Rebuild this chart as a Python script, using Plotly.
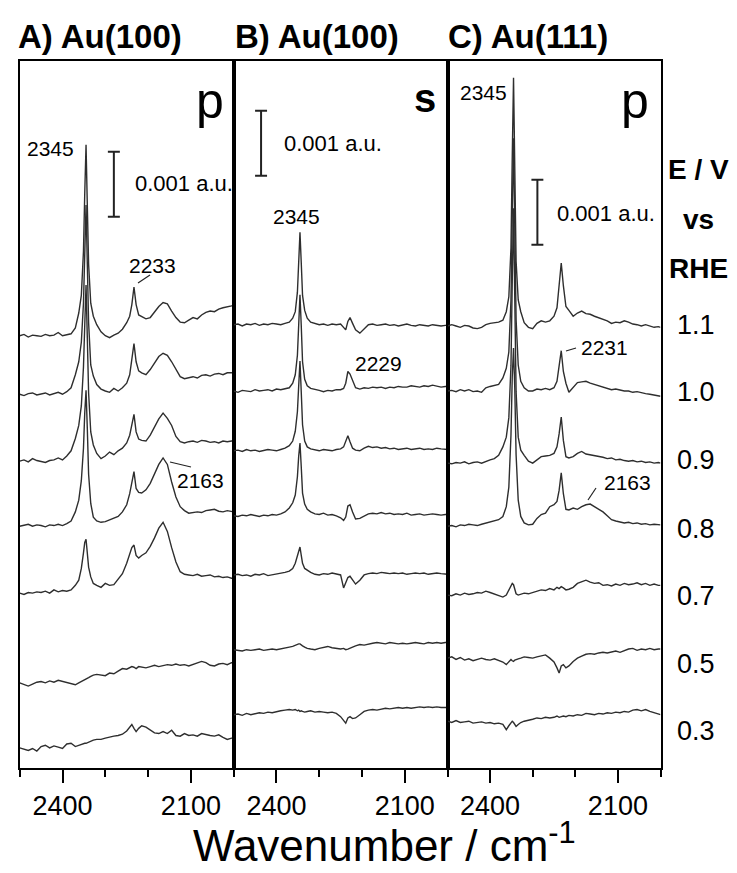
import plotly.graph_objects as go

# ---------------- data ----------------
# shared wavenumber grid (cm-1)
wavenumber = [2500, 2490, 2480, 2470, 2460, 2450, 2440, 2430, 2420, 2410, 2400, 2390, 2380, 2370,
              2362, 2356, 2351, 2348, 2345, 2342, 2339, 2334, 2328, 2320, 2310, 2300, 2290, 2280,
              2270, 2260, 2250, 2243, 2238, 2233, 2228, 2222, 2215, 2205, 2195, 2185, 2175, 2165,
              2155, 2145, 2135, 2125, 2115, 2105, 2095, 2085, 2075, 2065, 2055, 2045, 2035, 2025,
              2015, 2005, 2000]

potentials = ["1.1", "1.0", "0.9", "0.8", "0.7", "0.5", "0.3"]

# absorbance (units of 0.001 a.u.) relative to each spectrum's own baseline
A_11 = [0.00, 0.02, -0.02, 0.01, 0.00, -0.01, 0.02, 0.00, 0.01, 0.05, 0.00, 0.02, 0.03, 0.12, 0.35, 0.62, 1.30, 2.20, 2.94, 2.00,
        1.10, 0.50, 0.30, 0.17, 0.06, 0.00, -0.03, 0.01, 0.04, 0.10, 0.20, 0.30, 0.48, 0.75, 0.48, 0.32, 0.30, 0.26, 0.28, 0.36,
        0.45, 0.51, 0.49, 0.38, 0.28, 0.21, 0.20, 0.24, 0.28, 0.26, 0.32, 0.36, 0.38, 0.37, 0.41, 0.43, 0.44, 0.46, 0.47]
A_10 = [0.00, -0.02, 0.01, 0.02, -0.01, 0.00, 0.02, -0.01, 0.01, 0.03, 0.00, 0.04, 0.10, 0.30, 0.50, 0.80, 1.40, 2.20, 2.91, 2.00,
        1.10, 0.45, 0.28, 0.15, 0.08, 0.05, 0.03, 0.09, 0.05, 0.10, 0.17, 0.30, 0.52, 0.78, 0.50, 0.36, 0.33, 0.30, 0.38, 0.48,
        0.58, 0.63, 0.60, 0.50, 0.38, 0.27, 0.24, 0.26, 0.27, 0.25, 0.29, 0.30, 0.28, 0.31, 0.32, 0.30, 0.33, 0.33, 0.34]
A_09 = [0.00, 0.02, -0.01, 0.04, 0.01, 0.00, -0.02, 0.01, 0.02, 0.05, 0.02, 0.08, 0.16, 0.35, 0.55, 0.85, 1.45, 2.10, 2.71, 1.90,
        1.05, 0.45, 0.25, 0.12, 0.04, 0.08, 0.14, 0.10, 0.16, 0.20, 0.28, 0.40, 0.55, 0.72, 0.45, 0.34, 0.32, 0.31, 0.40, 0.52,
        0.65, 0.74, 0.66, 0.55, 0.38, 0.30, 0.28, 0.30, 0.31, 0.29, 0.32, 0.31, 0.29, 0.30, 0.28, 0.31, 0.30, 0.31, 0.31]
A_08 = [0.00, 0.02, 0.03, 0.00, 0.02, 0.01, -0.01, 0.02, 0.01, 0.03, 0.01, 0.04, 0.08, 0.22, 0.40, 0.70, 1.20, 1.75, 2.09, 1.50,
        0.80, 0.35, 0.14, 0.08, 0.06, 0.07, 0.10, 0.13, 0.15, 0.22, 0.33, 0.50, 0.70, 0.84, 0.58, 0.52, 0.51, 0.56, 0.66, 0.80,
        0.95, 1.05, 0.95, 0.68, 0.45, 0.30, 0.24, 0.20, 0.21, 0.22, 0.21, 0.24, 0.25, 0.26, 0.23, 0.22, 0.24, 0.22, 0.22]
A_07 = [0.00, -0.02, 0.01, 0.00, 0.02, 0.01, 0.03, 0.00, 0.05, 0.02, 0.04, 0.03, 0.05, 0.12, 0.20, 0.38, 0.62, 0.78, 0.83, 0.60,
        0.40, 0.25, 0.15, 0.12, 0.09, 0.15, 0.12, 0.13, 0.22, 0.30, 0.46, 0.60, 0.70, 0.74, 0.58, 0.54, 0.58, 0.62, 0.72, 0.85,
        1.00, 1.09, 0.95, 0.70, 0.48, 0.33, 0.29, 0.28, 0.27, 0.29, 0.26, 0.27, 0.28, 0.25, 0.26, 0.24, 0.25, 0.23, 0.23]
A_05 = [0.00, -0.03, -0.05, -0.02, 0.01, 0.02, 0.00, 0.03, 0.01, 0.04, 0.02, 0.00, -0.01, -0.03, 0.00, 0.02, 0.03, 0.05, 0.06, 0.07,
        0.08, 0.10, 0.12, 0.13, 0.12, 0.11, 0.15, 0.14, 0.18, 0.22, 0.21, 0.23, 0.25, 0.24, 0.22, 0.25, 0.24, 0.23, 0.25, 0.27,
        0.25, 0.26, 0.28, 0.27, 0.29, 0.27, 0.28, 0.26, 0.28, 0.30, 0.33, 0.31, 0.27, 0.26, 0.29, 0.30, 0.28, 0.31, 0.31]
A_03 = [0.00, -0.02, -0.04, -0.01, -0.05, 0.02, 0.04, 0.00, 0.03, 0.01, -0.01, 0.06, 0.07, 0.02, 0.04, 0.05, 0.06, 0.07, 0.07, 0.08,
        0.09, 0.10, 0.12, 0.13, 0.13, 0.15, 0.17, 0.18, 0.19, 0.21, 0.26, 0.33, 0.36, 0.30, 0.25, 0.30, 0.34, 0.32, 0.28, 0.23,
        0.22, 0.25, 0.22, 0.27, 0.19, 0.18, 0.22, 0.19, 0.20, 0.18, 0.22, 0.20, 0.19, 0.18, 0.20, 0.16, 0.13, 0.15, 0.15]

B_11 = [0.00, 0.01, -0.02, 0.01, 0.00, 0.02, -0.01, 0.01, 0.00, 0.02, 0.01, 0.00, 0.02, 0.04, 0.10, 0.20, 0.50, 1.00, 1.42, 0.95,
        0.45, 0.22, 0.10, 0.04, 0.02, 0.00, 0.01, -0.01, 0.01, 0.00, 0.01, -0.05, -0.08, 0.05, 0.11, 0.02, -0.08, -0.13, -0.06, 0.00,
        0.01, -0.01, 0.00, 0.01, -0.01, 0.00, -0.02, 0.00, 0.01, -0.01, -0.02, 0.00, -0.01, -0.02, 0.00, -0.01, -0.02, -0.01, -0.01]
B_10 = [0.00, -0.02, 0.01, 0.00, -0.01, 0.02, 0.00, 0.01, 0.02, 0.00, 0.03, 0.02, 0.04, 0.05, 0.12, 0.25, 0.55, 1.05, 1.48, 1.00,
        0.45, 0.18, 0.08, 0.04, 0.03, 0.01, -0.01, 0.01, 0.00, 0.02, 0.02, 0.04, 0.12, 0.30, 0.26, 0.15, 0.05, 0.03, 0.05, 0.04,
        0.06, 0.05, 0.06, 0.04, 0.06, 0.05, 0.07, 0.06, 0.06, 0.08, 0.07, 0.06, 0.08, 0.07, 0.09, 0.08, 0.06, 0.07, 0.07]
B_09 = [0.00, 0.01, -0.01, 0.02, 0.00, 0.01, -0.01, 0.00, 0.02, 0.01, 0.00, 0.02, 0.04, 0.08, 0.15, 0.30, 0.60, 1.00, 1.38, 0.90,
        0.40, 0.15, 0.06, 0.03, 0.01, 0.00, 0.02, 0.01, 0.00, 0.02, 0.03, 0.06, 0.16, 0.23, 0.14, 0.04, 0.01, 0.00, 0.04, 0.07,
        0.05, 0.06, 0.04, 0.05, 0.03, 0.04, 0.02, 0.03, 0.04, 0.02, 0.03, 0.04, 0.02, 0.03, 0.02, 0.04, 0.03, 0.02, 0.02]
B_08 = [0.00, -0.01, 0.01, 0.00, 0.02, 0.00, -0.01, 0.01, 0.00, 0.02, 0.01, 0.03, 0.06, 0.12, 0.20, 0.32, 0.60, 0.92, 1.12, 0.75,
        0.35, 0.18, 0.10, 0.06, 0.03, 0.02, 0.04, 0.01, 0.02, 0.00, -0.03, -0.07, -0.02, 0.15, 0.17, 0.06, -0.05, -0.04, -0.01, 0.03,
        0.04, 0.03, 0.05, 0.03, 0.04, 0.02, 0.03, 0.02, 0.04, 0.01, 0.02, 0.03, 0.01, 0.02, 0.03, 0.02, 0.01, 0.02, 0.02]
B_07 = [0.00, 0.01, -0.01, 0.00, -0.02, 0.01, 0.00, 0.02, -0.01, 0.00, 0.01, 0.02, 0.04, 0.06, 0.10, 0.18, 0.30, 0.40, 0.43, 0.30,
        0.18, 0.10, 0.07, 0.04, 0.01, 0.00, 0.02, 0.01, 0.03, 0.02, 0.00, -0.20, -0.12, -0.04, -0.02, -0.08, -0.14, -0.08, 0.00, 0.02,
        0.03, 0.02, 0.04, 0.03, 0.02, 0.03, 0.02, 0.03, 0.01, 0.02, 0.03, 0.02, 0.03, 0.01, 0.02, 0.03, 0.02, 0.01, 0.01]
B_05 = [0.00, -0.01, -0.02, 0.00, -0.01, 0.00, 0.01, -0.01, 0.00, 0.01, 0.00, 0.01, 0.03, 0.04, 0.05, 0.07, 0.08, 0.09, 0.09, 0.08,
        0.06, 0.04, 0.02, 0.01, 0.00, 0.02, 0.04, 0.05, 0.03, 0.02, 0.01, 0.02, 0.00, 0.01, 0.02, 0.04, 0.06, 0.08, 0.07, 0.09,
        0.10, 0.11, 0.10, 0.09, 0.11, 0.10, 0.09, 0.10, 0.09, 0.10, 0.11, 0.10, 0.09, 0.11, 0.10, 0.11, 0.10, 0.11, 0.11]
B_03 = [0.00, 0.01, -0.01, 0.02, 0.00, 0.01, 0.03, 0.02, 0.04, 0.03, 0.05, 0.06, 0.07, 0.08, 0.07, 0.08, 0.06, 0.07, 0.05, 0.06,
        0.05, 0.04, 0.05, 0.06, 0.04, 0.05, 0.04, 0.03, 0.04, 0.02, -0.03, -0.10, -0.13, -0.05, -0.03, -0.06, -0.05, 0.00, 0.05, 0.07,
        0.08, 0.07, 0.09, 0.10, 0.09, 0.10, 0.11, 0.10, 0.11, 0.10, 0.11, 0.12, 0.11, 0.12, 0.11, 0.12, 0.11, 0.11, 0.11]

C_11 = [0.00, 0.02, 0.00, -0.02, 0.01, 0.00, -0.03, -0.04, -0.02, 0.02, 0.04, 0.05, 0.06, 0.09, 0.22, 0.45, 1.20, 2.60, 3.82, 2.40,
        1.00, 0.40, 0.22, 0.05, -0.02, -0.04, 0.04, 0.08, 0.06, 0.08, 0.15, 0.28, 0.60, 0.97, 0.62, 0.30, 0.24, 0.15, 0.20, 0.23,
        0.19, 0.18, 0.15, 0.13, 0.10, 0.08, 0.04, 0.06, 0.05, 0.08, 0.06, 0.03, 0.02, 0.00, 0.02, 0.00, -0.02, -0.01, -0.02]
C_10 = [0.00, 0.01, -0.01, 0.02, 0.00, 0.02, -0.01, 0.00, -0.02, 0.05, 0.07, 0.08, 0.10, 0.20, 0.35, 0.60, 1.40, 2.70, 3.89, 2.50,
        1.10, 0.40, 0.15, 0.05, 0.00, 0.00, 0.03, 0.02, 0.04, 0.02, 0.05, 0.15, 0.35, 0.62, 0.30, 0.12, -0.02, 0.06, 0.13, 0.14,
        0.15, 0.12, 0.10, 0.07, 0.05, 0.04, 0.02, 0.03, 0.01, 0.00, 0.00, -0.02, -0.01, -0.03, -0.04, -0.05, -0.06, -0.08, -0.08]
C_09 = [0.00, -0.01, 0.01, 0.00, 0.02, -0.01, 0.01, 0.02, 0.00, 0.03, 0.05, 0.07, 0.12, 0.25, 0.40, 0.70, 1.50, 2.80, 3.92, 2.50,
        1.10, 0.40, 0.20, 0.12, 0.03, 0.00, 0.05, 0.10, 0.11, 0.12, 0.15, 0.25, 0.45, 0.71, 0.35, 0.10, 0.08, 0.10, 0.15, 0.18,
        0.14, 0.13, 0.12, 0.10, 0.09, 0.07, 0.08, 0.05, 0.06, 0.04, 0.03, 0.04, 0.02, 0.03, 0.01, 0.02, 0.00, 0.01, 0.00]
C_08 = [0.00, 0.01, -0.01, 0.02, 0.01, 0.03, 0.02, 0.01, 0.03, 0.05, 0.06, 0.08, 0.10, 0.15, 0.30, 0.60, 1.40, 2.30, 2.74, 2.10,
        1.10, 0.40, 0.15, 0.05, 0.02, 0.03, 0.12, 0.18, 0.20, 0.30, 0.33, 0.38, 0.55, 0.82, 0.50, 0.26, 0.25, 0.28, 0.26, 0.30,
        0.33, 0.34, 0.30, 0.26, 0.22, 0.16, 0.10, 0.08, 0.07, 0.05, 0.06, 0.04, 0.05, 0.03, 0.04, 0.02, 0.03, 0.02, 0.02]
C_07 = [0.00, -0.01, 0.02, 0.00, 0.03, 0.01, 0.02, 0.04, 0.03, 0.06, 0.04, 0.02, 0.00, -0.03, 0.00, 0.08, 0.15, 0.18, 0.16, 0.08,
        0.02, 0.00, 0.01, 0.03, 0.02, 0.04, 0.05, 0.08, 0.07, 0.10, 0.08, 0.12, 0.10, 0.13, 0.11, 0.08, 0.09, 0.12, 0.18, 0.20,
        0.23, 0.20, 0.18, 0.19, 0.15, 0.16, 0.14, 0.17, 0.15, 0.18, 0.16, 0.17, 0.19, 0.16, 0.18, 0.15, 0.17, 0.15, 0.15]
C_05 = [0.00, 0.02, -0.02, 0.01, -0.03, -0.01, -0.04, -0.02, 0.00, -0.02, -0.03, -0.01, -0.04, -0.06, -0.10, -0.06, -0.02, -0.04, -0.05, -0.03,
        -0.02, -0.01, 0.00, 0.02, 0.01, 0.00, 0.02, 0.04, 0.05, 0.00, -0.06, -0.15, -0.23, -0.12, -0.10, -0.15, -0.12, -0.05, 0.00, 0.03,
        0.06, 0.07, 0.06, 0.08, 0.09, 0.08, 0.10, 0.11, 0.09, 0.12, 0.14, 0.15, 0.12, 0.14, 0.13, 0.15, 0.13, 0.14, 0.14]
C_03 = [0.00, -0.02, 0.01, -0.02, -0.01, 0.00, -0.03, -0.02, -0.01, -0.03, -0.02, -0.04, -0.03, -0.05, -0.13, -0.07, -0.02, 0.00, -0.02, -0.06,
        -0.08, -0.05, -0.02, 0.00, 0.01, 0.03, 0.05, 0.04, 0.06, 0.05, 0.06, 0.08, 0.06, 0.07, 0.08, 0.07, 0.09, 0.08, 0.10, 0.09,
        0.12, 0.11, 0.10, 0.12, 0.11, 0.13, 0.12, 0.14, 0.13, 0.15, 0.14, 0.17, 0.18, 0.16, 0.18, 0.15, 0.13, 0.10, 0.10]

# vertical stacking offsets (units of 0.001 a.u.), one per potential
offsets_A = [6.65, 5.75, 4.72, 3.72, 2.69, 1.31, 0.31]
offsets_B = [6.82, 5.80, 4.88, 3.88, 2.97, 1.82, 0.82]
offsets_C = [6.80, 5.80, 4.69, 3.72, 2.66, 1.69, 0.72]

spectra_A = [A_11, A_10, A_09, A_08, A_07, A_05, A_03]
spectra_B = [B_11, B_10, B_09, B_08, B_07, B_05, B_03]
spectra_C = [C_11, C_10, C_09, C_08, C_07, C_05, C_03]

panel_titles = ["A) Au(100)", "B) Au(100)", "C) Au(111)"]
polarisation = ["p", "s", "p"]
scale_bar = 1.0            # 0.001 a.u.
scale_bar_label = "0.001 a.u."
tick_values = [2400, 2100]
minor_tick_values = [2500, 2300, 2200, 2000]

# ---------------- figure ----------------
W, H = 737, 873
def px(x):
    return x / W
def py(y):
    return 1 - y / H

x_domains = [[11.7 / W, 225.7 / W], [225.7 / W, 439.5 / W], [439.5 / W, 652.5 / W]]
y_domain = [py(760), py(53)]
y_range = [0, (760 - 53) / 65.0]

fig = go.Figure()
line_style = dict(color="#2e2e2e", width=1.4)
panels = [(spectra_A, offsets_A), (spectra_B, offsets_B), (spectra_C, offsets_C)]
for i, (spectra, offs) in enumerate(panels):
    xa = "x" if i == 0 else f"x{i+1}"
    ya = "y" if i == 0 else f"y{i+1}"
    for pot, spec, off in zip(potentials, spectra, offs):
        fig.add_trace(go.Scatter(x=wavenumber, y=[off + v for v in spec], mode="lines",
                                 line=line_style, xaxis=xa, yaxis=ya, name=pot,
                                 showlegend=False, hoverinfo="skip"))

font_family = "Liberation Sans, Arial, sans-serif"
axis_common = dict(range=[2500, 2000], showgrid=False, zeroline=False, showline=True, mirror=True,
                   linecolor="black", linewidth=2, ticks="outside", ticklen=13, tickwidth=2,
                   tickcolor="black", tickvals=tick_values, ticktext=[str(t) for t in tick_values],
                   tickfont=dict(family=font_family, size=27, color="black"),
                   minor=dict(tickvals=minor_tick_values, ticklen=7, tickwidth=2, tickcolor="black",
                              ticks="outside"))
yaxis_common = dict(range=y_range, showgrid=False, zeroline=False, showline=True, mirror=True,
                    linecolor="black", linewidth=2, showticklabels=False, ticks="", domain=y_domain)

layout = dict(width=W, height=H, autosize=False, margin=dict(l=0, r=0, t=0, b=0),
              plot_bgcolor="white", paper_bgcolor="white", showlegend=False)
for i in range(3):
    sfx = "" if i == 0 else str(i + 1)
    layout["xaxis" + sfx] = dict(axis_common, domain=x_domains[i], anchor="y" + sfx)
    layout["yaxis" + sfx] = dict(yaxis_common, anchor="x" + sfx)
fig.update_layout(**layout)

annotations = []
def txt(text, x, y, size, bold=False, xanchor="center", yanchor="middle"):
    t = f"<b>{text}</b>" if bold else text
    annotations.append(dict(text=t, x=px(x), y=py(y), xref="paper", yref="paper", showarrow=False,
                            xanchor=xanchor, yanchor=yanchor,
                            font=dict(family=font_family, size=size, color="black")))

# panel titles
for t, x0 in zip(panel_titles, [8, 225, 438]):
    txt(t, x0, 29, 33, bold=True, xanchor="left")
# polarisation labels
txt(polarisation[0], 202, 93, 50)
txt(polarisation[1], 417, 90, 40, bold=True)
txt(polarisation[2], 627, 93, 50)
# scale bar labels
txt(scale_bar_label, 176, 176, 22)
txt(scale_bar_label, 325, 135, 22)
txt(scale_bar_label, 598, 205, 22)
# peak labels
txt("2345", 42, 141, 21)
txt("2233", 144, 257, 21)
txt("2163", 193, 473, 21)
txt("2345", 288, 208, 21)
txt("2229", 370, 355, 21)
txt("2345", 476, 85, 21)
txt("2231", 596, 340, 21)
txt("2163", 619, 475, 21)
# right-hand labels
txt("E / V", 690, 161, 28, bold=True)
txt("vs", 690, 211, 28, bold=True)
txt("RHE", 690, 260, 28, bold=True)
for pot, yv in zip(potentials, [317, 384, 452, 521, 588, 656, 723]):
    txt(pot, 688, yv, 27)
# axis title
txt("Wavenumber / cm<sup>-1</sup>", 376, 864, 44, yanchor="bottom")
fig.update_layout(annotations=annotations)

shapes = []
# scale bars (data coordinates)
bars = [("x", "y", 2280, 8.48), ("x2", "y2", 2436, 9.11), ("x3", "y3", 2289, 8.05)]
for xr, yr, xc, y0 in bars:
    shapes.append(dict(type="line", xref=xr, yref=yr, x0=xc, x1=xc, y0=y0, y1=y0 + scale_bar,
                       line=dict(color="#222", width=2)))
    for yy in (y0, y0 + scale_bar):
        shapes.append(dict(type="line", xref=xr, yref=yr, x0=xc - 14, x1=xc + 14, y0=yy, y1=yy,
                           line=dict(color="#222", width=2)))
# leader lines (paper)
for (x0, y0, x1, y1) in [(142, 267, 130, 275), (162, 454, 183, 459), (558, 343, 568, 340), (580, 492, 588, 480)]:
    shapes.append(dict(type="line", xref="paper", yref="paper", x0=px(x0), y0=py(y0), x1=px(x1), y1=py(y1),
                       line=dict(color="#222", width=1.2)))
fig.update_layout(shapes=shapes)

fig.write_html("out.html")
